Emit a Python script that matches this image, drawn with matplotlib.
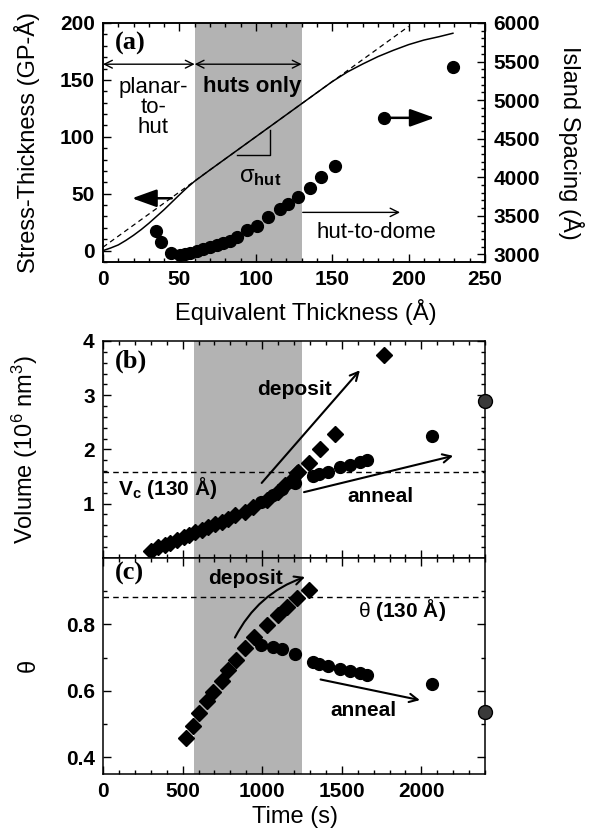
import numpy as np
import matplotlib
matplotlib.use('Agg')
import matplotlib.pyplot as plt
from matplotlib.ticker import MultipleLocator, FixedLocator

plt.rcParams['font.family'] = ['Liberation Sans', 'DejaVu Sans']
plt.rcParams['mathtext.fontset'] = 'custom'
plt.rcParams['mathtext.rm'] = 'Liberation Sans'
plt.rcParams['mathtext.bf'] = 'Liberation Sans:bold'
plt.rcParams['mathtext.it'] = 'Liberation Sans:italic'

# (a) stress-thickness vs equivalent thickness
thick = [0, 5, 10, 15, 20, 25, 30, 35, 40, 45, 50, 55, 60, 70, 80, 90, 100, 110,
         120, 130, 140, 150, 160, 170, 180, 190, 200, 210, 220, 229]
stress = [0, 2.3, 5, 9, 13.5, 18.5, 24, 30, 36, 42.5, 49, 55.3, 61, 70.9, 80.6, 90.3, 100,
          109.7, 119.4, 129.1, 138.8, 148.5, 157, 164, 170.5, 176, 181, 185, 188, 191]
fit_x = [0, 200]
fit_y = [3, 197]

# (a) island spacing
sp_thick = [34.5, 37.7, 44.5, 50.4, 53.7, 56.9, 61.3, 65.7, 70.0, 74.4, 78.7, 83.1,
            87.5, 94.0, 100.6, 108.2, 115.8, 121.3, 127.8, 135.5, 142.7, 151.8, 228.8]
spacing = [3306, 3155, 3021, 2991, 3000, 3021, 3047, 3069, 3091, 3117, 3143, 3177,
           3229, 3315, 3367, 3480, 3584, 3652, 3747, 3864, 3998, 4149, 5425]

# (b) volume, deposit (diamonds) and anneal (circles)
dep_t = [299, 347, 389, 421, 467, 509, 542, 578, 620, 662, 703, 745, 787, 829, 892,
         944, 1028, 1101, 1143, 1185, 1217, 1227, 1296, 1363, 1457, 1767]
dep_vol = [0.13, 0.19, 0.23, 0.28, 0.33, 0.38, 0.42, 0.48, 0.52, 0.57, 0.62, 0.66, 0.71,
           0.78, 0.85, 0.93, 1.06, 1.22, 1.34, 1.43, 1.56, 1.59, 1.75, 2.0, 2.29, 3.74]
ann_t = [990, 1070, 1122, 1206, 1317, 1359, 1415, 1489, 1551, 1614, 1656, 2068]
ann_vol = [1.02, 1.16, 1.26, 1.37, 1.51, 1.54, 1.59, 1.68, 1.71, 1.76, 1.80, 2.25]
last_t = 2399
last_vol = 2.90

# (c) coverage
cov_t = [521, 567, 605, 655, 693, 745, 787, 833, 892, 948, 1028, 1101, 1154, 1217, 1296]
cov_dep = [0.457, 0.495, 0.532, 0.570, 0.597, 0.630, 0.664, 0.692, 0.729, 0.762, 0.797,
           0.829, 0.852, 0.879, 0.902]
cov_ann = [0.739, 0.732, 0.727, 0.710, 0.687, 0.682, 0.675, 0.667, 0.660, 0.654, 0.649, 0.620]
last_cov = 0.535

v_crit = 1.59
theta_crit = 0.882

W, H = 595, 831
fig = plt.figure(figsize=(W / 100, H / 100), dpi=100)
L, R = 103, 485
axA = fig.add_axes([L / W, 1 - 262 / H, (R - L) / W, (262 - 23) / H])
axB = fig.add_axes([L / W, 1 - 557.7 / H, (R - L) / W, (557.7 - 341) / H])
axC = fig.add_axes([L / W, 1 - 774 / H, (R - L) / W, (774 - 557.7) / H])
shade = '#b3b3b3'
bold15 = dict(fontsize=15, fontweight='bold')
panel = dict(family='Liberation Serif', fontsize=19, fontweight='bold', va='center')


def style(ax, top=True, right=True):
    ax.tick_params(which='both', direction='in', top=top, right=right, width=1)
    ax.tick_params(which='major', length=6, pad=6, labelsize=15)
    ax.tick_params(which='minor', length=3)
    for s in ax.spines.values():
        s.set_linewidth(1.1)


def boldticks(ax):
    for lab in ax.get_xticklabels() + ax.get_yticklabels():
        lab.set_fontweight('bold')


# ---- (a)
axA.axvspan(60, 130, color=shade, lw=0, zorder=0)
axA.plot(thick, stress, 'k-', lw=1.1)
axA.plot(fit_x, fit_y, 'k--', lw=0.9, dashes=(4, 3))
axA.set_xlim(0, 250)
axA.set_ylim(-10, 200)
axA.xaxis.set_major_locator(MultipleLocator(50))
axA.xaxis.set_minor_locator(MultipleLocator(10))
axA.yaxis.set_major_locator(MultipleLocator(50))
axA.yaxis.set_minor_locator(MultipleLocator(10))
style(axA, right=False)
axA.set_xlabel('Equivalent Thickness (Å)', fontsize=17)
axA.xaxis.set_label_coords(0.53, -0.155)
axA.set_ylabel('Stress-Thickness (GP-Å)', fontsize=17)
axA.yaxis.set_label_coords(-0.165, 0.5)

axA2 = axA.twinx()
axA2.plot(sp_thick, spacing, 'o', color='k', ms=8.5)
axA2.set_ylim(2900, 6000)
axA2.yaxis.set_major_locator(MultipleLocator(500))
axA2.yaxis.set_minor_locator(MultipleLocator(100))
style(axA2, top=False, right=True)
axA2.tick_params(which='both', left=False)
axA2.set_ylabel('Island Spacing (Å)', fontsize=17, rotation=270, va='bottom')
axA2.yaxis.set_label_coords(1.19, 0.5)
boldticks(axA)
boldticks(axA2)

axA.text(0.031, 0.915, '(a)', transform=axA.transAxes, **panel)
for x0, x1 in [(0, 60), (60, 130)]:
    axA.annotate('', xy=(x0, 163.8), xytext=(x1, 163.8),
                 arrowprops=dict(arrowstyle='<->', lw=1, mutation_scale=14,
                                 shrinkA=0, shrinkB=0))
axA.text(33, 125.7, 'planar-\nto-\nhut', ha='center', va='center', fontsize=16,
         linespacing=0.95)
axA.text(97.6, 143.9, 'huts only', ha='center', va='center', fontsize=16, fontweight='bold')
axA.plot([87.5, 109.3, 109.3], [84, 84, 106], 'k-', lw=1)
axA.text(103, 65, r'$\mathrm{\sigma}_{\mathbf{hut}}$', ha='center', va='center', fontsize=17)
axA.text(179, 16, 'hut-to-dome', ha='center', va='center', fontsize=16)
axA.annotate('', xy=(194.4, 33.6), xytext=(130.7, 33.6),
             arrowprops=dict(arrowstyle='->', lw=1, mutation_scale=15, shrinkA=0, shrinkB=0))
fat = dict(arrowstyle='-|>,head_length=0.75,head_width=0.27', lw=1.8, color='k',
           mutation_scale=20, shrinkA=0, shrinkB=0)
axA.annotate('', xy=(19, 46), xytext=(45, 46), arrowprops=fat)
axA2.plot([184], [4770], 'o', color='k', ms=8.5)
axA2.annotate('', xy=(217, 4770), xytext=(185, 4770), arrowprops=fat)

# ---- (b)
axB.axvspan(570, 1250, color=shade, lw=0, zorder=0)
axB.axhline(v_crit, color='k', ls='--', lw=1, dashes=(4, 3))
axB.plot(dep_t, dep_vol, 'D', color='k', ms=8.5)
axB.plot(ann_t, ann_vol, 'o', color='k', ms=8.5)
axB.plot([last_t], [last_vol], 'o', ms=10, mfc='#3a3a3a', mec='k', clip_on=False, zorder=5)
axB.set_xlim(0, 2400)
axB.set_ylim(0, 4)
axB.xaxis.set_major_locator(MultipleLocator(500))
axB.xaxis.set_minor_locator(MultipleLocator(100))
axB.yaxis.set_major_locator(FixedLocator([1, 2, 3, 4]))
axB.yaxis.set_minor_locator(MultipleLocator(0.2))
style(axB)
axB.tick_params(labelbottom=False)
axB.set_ylabel(r'Volume (10$^6$ nm$^3$)', fontsize=17)
axB.yaxis.set_label_coords(-0.165, 0.5)
boldticks(axB)
axB.text(0.031, 0.905, '(b)', transform=axB.transAxes, **panel)
axB.text(1206, 3.1, 'deposit', ha='center', va='center', **bold15)
axB.annotate('', xy=(1614, 3.46), xytext=(997, 1.38),
             arrowprops=dict(arrowstyle='->', lw=1.5, mutation_scale=15, shrinkA=0, shrinkB=0))
axB.text(1740, 1.13, 'anneal', ha='center', va='center', **bold15)
axB.annotate('', xy=(2200, 1.88), xytext=(1263, 1.21),
             arrowprops=dict(arrowstyle='->', lw=1.5, mutation_scale=15, shrinkA=0, shrinkB=0))
axB.text(96, 1.28, r'$\mathbf{V_c}$ (130 Å)', ha='left', va='center', **bold15)

# ---- (c)
axC.axvspan(570, 1250, color=shade, lw=0, zorder=0)
axC.axhline(theta_crit, color='k', ls='--', lw=1, dashes=(4, 3))
axC.plot(cov_t, cov_dep, 'D', color='k', ms=8.5)
axC.plot(ann_t, cov_ann, 'o', color='k', ms=8.5)
axC.plot([last_t], [last_cov], 'o', ms=10, mfc='#3a3a3a', mec='k', clip_on=False, zorder=5)
axC.set_xlim(0, 2400)
axC.set_ylim(0.35, 1.0)
axC.xaxis.set_major_locator(MultipleLocator(500))
axC.xaxis.set_minor_locator(MultipleLocator(100))
axC.yaxis.set_major_locator(FixedLocator([0.4, 0.6, 0.8]))
axC.yaxis.set_minor_locator(FixedLocator([0.5, 0.7, 0.9]))
style(axC)
axC.set_xlabel('Time (s)', fontsize=17)
axC.xaxis.set_label_coords(0.503, -0.15)
axC.set_ylabel('θ', fontsize=17)
axC.yaxis.set_label_coords(-0.165, 0.5)
boldticks(axC)
axC.text(0.031, 0.925, '(c)', transform=axC.transAxes, **panel)
axC.text(897, 0.937, 'deposit', ha='center', va='center', **bold15)
axC.annotate('', xy=(1269, 0.942), xytext=(829, 0.76),
             arrowprops=dict(arrowstyle='->', lw=1.5, mutation_scale=15, shrinkA=0, shrinkB=0,
                             connectionstyle='arc3,rad=-0.2'))
axC.text(1881, 0.842, r'$\mathrm{\theta}$ (130 Å)', ha='center', va='center', **bold15)
axC.text(1639, 0.542, 'anneal', ha='center', va='center', **bold15)
axC.annotate('', xy=(1991, 0.572), xytext=(1367, 0.634),
             arrowprops=dict(arrowstyle='->', lw=1.5, mutation_scale=15, shrinkA=0, shrinkB=0))

fig.savefig('out.png', dpi=100)
